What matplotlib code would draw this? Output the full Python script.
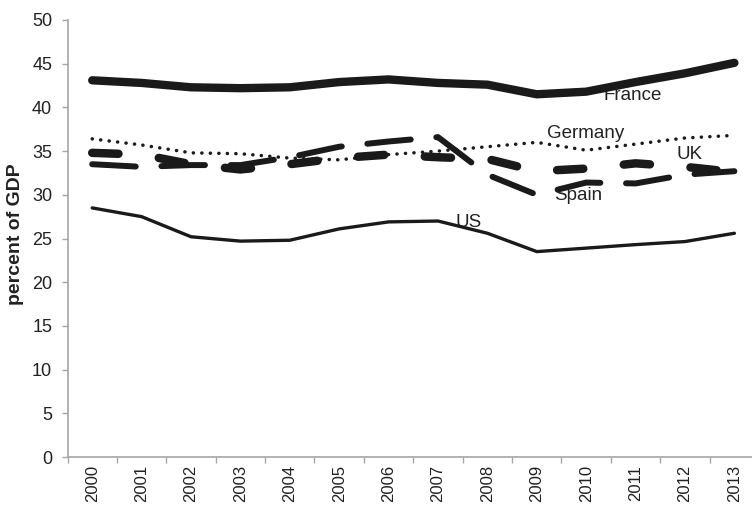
import numpy as np
import matplotlib
matplotlib.use("Agg")
import matplotlib.pyplot as plt
from matplotlib.ticker import FixedLocator, NullFormatter

plt.rcParams['font.family'] = ['Liberation Sans', 'DejaVu Sans']

# dados (percent of GDP)
anos = [str(a) for a in range(2000, 2014)]
france = [43.1, 42.8, 42.3, 42.2, 42.3, 42.9, 43.2, 42.8, 42.6, 41.5, 41.8, 42.9, 43.9, 45.1]
germany = [36.4, 35.7, 34.8, 34.7, 34.2, 34.0, 34.6, 35.0, 35.5, 36.0, 35.1, 35.8, 36.5, 36.8]
uk = [34.8, 34.6, 33.5, 32.9, 33.5, 34.2, 34.6, 34.3, 34.1, 32.7, 33.0, 33.6, 33.2, 32.6]
spain = [33.5, 33.2, 33.4, 33.4, 34.3, 35.5, 36.1, 36.6, 32.3, 30.0, 31.4, 31.3, 32.3, 32.7]
us = [28.5, 27.5, 25.2, 24.7, 24.8, 26.1, 26.9, 27.0, 25.6, 23.5, 23.9, 24.3, 24.65, 25.6]

# rotulos das curvas: (texto, x, y de base)
rotulos = [('France', 10.95, 40.9), ('Germany', 9.99, 36.55), ('UK', 12.09, 34.1),
           ('Spain', 9.84, 29.4), ('US', 7.61, 26.3)]

preto = '#1a1a1a'
cinza = '#a6a6a6'

fig = plt.figure(figsize=(7.52, 5.05), dpi=100)
ax = fig.add_axes([67.5/752, 48/505, 691.6/752, 437/505])

x = np.arange(len(anos))

ax.plot(x, france, color=preto, lw=6.0, solid_capstyle='round', solid_joinstyle='round')
ax.plot(x, us, color=preto, lw=2.4, solid_capstyle='round', solid_joinstyle='round')
ax.plot(x, germany, color=preto, lw=2.5, linestyle=(0, (0.05, 2.4)), dash_capstyle='round')
ax.plot(x, spain, color=preto, lw=4.3, linestyle=(0, (7.3, 4.3)), dash_capstyle='round')
ax.plot(x, uk, color=preto, lw=6.1, linestyle=(0, (3.1, 4.8)), dash_capstyle='round')

for txt, tx, ty in rotulos:
    ax.text(tx, ty, txt, ha='center', va='baseline', fontsize=13.5, color='#222222', zorder=1.5)

ax.set_xlim(-0.5, 13.5)
ax.set_ylim(0, 50)
ax.set_yticks(np.arange(0, 51, 5))
ax.set_xticks(x)
ax.set_xticklabels(anos, rotation=90)
ax.xaxis.set_minor_locator(FixedLocator(np.arange(-0.5, 14, 1)))
ax.xaxis.set_minor_formatter(NullFormatter())

ax.tick_params(axis='x', which='major', length=0, pad=5.5, labelsize=12, colors='#222222')
ax.tick_params(axis='x', which='minor', length=4, width=1, color=cinza, direction='out')
ax.tick_params(axis='y', length=4, width=1, color=cinza, pad=7, labelsize=13, labelcolor='#222222')

for s in ['top', 'right']:
    ax.spines[s].set_visible(False)
for s in ['left', 'bottom']:
    ax.spines[s].set_color(cinza)
    ax.spines[s].set_linewidth(1.2)

fig.text(16/752, 0.537, 'percent of GDP', rotation=90, ha='center', va='center',
         fontsize=14, fontweight='bold', color='#222222')

fig.savefig('out.png', dpi=100)
